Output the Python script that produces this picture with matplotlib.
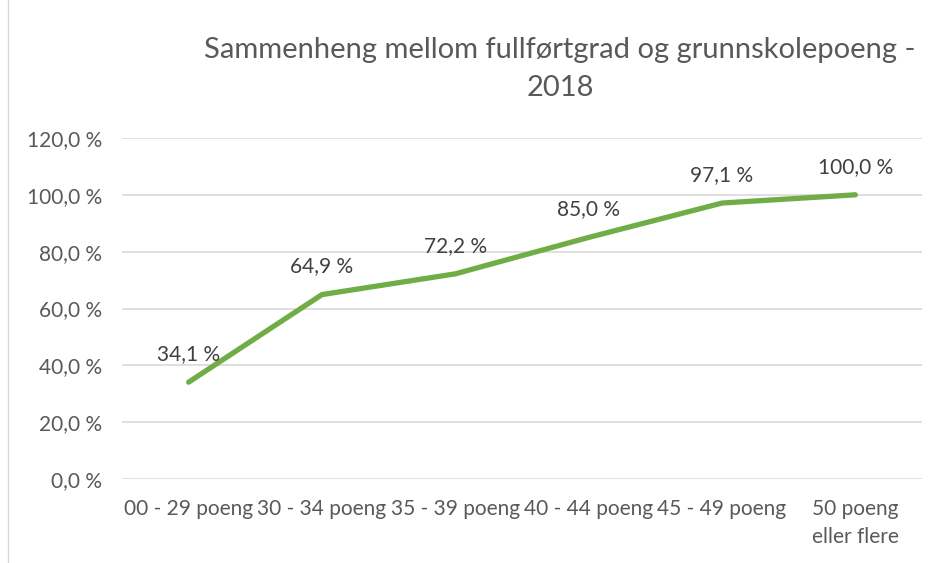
import matplotlib
matplotlib.use("Agg")
import matplotlib.pyplot as plt
from matplotlib.lines import Line2D

# data
kategorier = ["00 - 29 poeng", "30 - 34 poeng", "35 - 39 poeng", "40 - 44 poeng",
              "45 - 49 poeng", "50 poeng\neller flere"]
fullfort = [34.1, 64.9, 72.2, 85.0, 97.1, 100.0]
yticks = [0, 20, 40, 60, 80, 100, 120]

plt.rcParams['font.family'] = ['Lato', 'DejaVu Sans']
grey = "#595959"

fig = plt.figure(figsize=(9.38, 5.63), dpi=100)
ax = fig.add_axes([0.130, 0.149, 0.853, 0.606])

x = range(len(kategorier))
ax.plot(x, fullfort, color="#70AD47", lw=3.8, solid_capstyle="round", solid_joinstyle="round", zorder=3)
for i, v in enumerate(fullfort):
    ax.annotate(("%.1f %%" % v).replace(".", ","), (i, v), xytext=(0, 13),
                textcoords="offset points", ha="center", va="bottom",
                fontsize=15, color="#404040")

ax.set_xlim(-0.5, len(kategorier) - 0.5)
ax.set_ylim(0, 120)
ax.set_yticks(yticks)
ax.set_yticklabels([("%.1f %%" % t).replace(".", ",") for t in yticks])
ax.set_xticks(list(x))
ax.set_xticklabels(kategorier, linespacing=1.55)
ax.tick_params(axis="both", length=0, colors=grey, labelsize=15)
ax.tick_params(axis="y", pad=14)
ax.tick_params(axis="x", pad=14)
ax.grid(axis="y", color="#D9D9D9", lw=1.2)
ax.set_axisbelow(True)
for s in ax.spines.values():
    s.set_visible(False)

fig.text(0.597, 0.911, "Sammenheng mellom fullførtgrad og grunnskolepoeng -",
         ha="center", va="center", fontsize=21, color=grey)
fig.text(0.597, 0.843, "2018", ha="center", va="center", fontsize=21, color=grey)

# chart border on the left
fig.add_artist(Line2D([0.0085, 0.0085], [0, 1], transform=fig.transFigure, color="#D9D9D9", lw=1))

fig.savefig("out.png", dpi=100)
